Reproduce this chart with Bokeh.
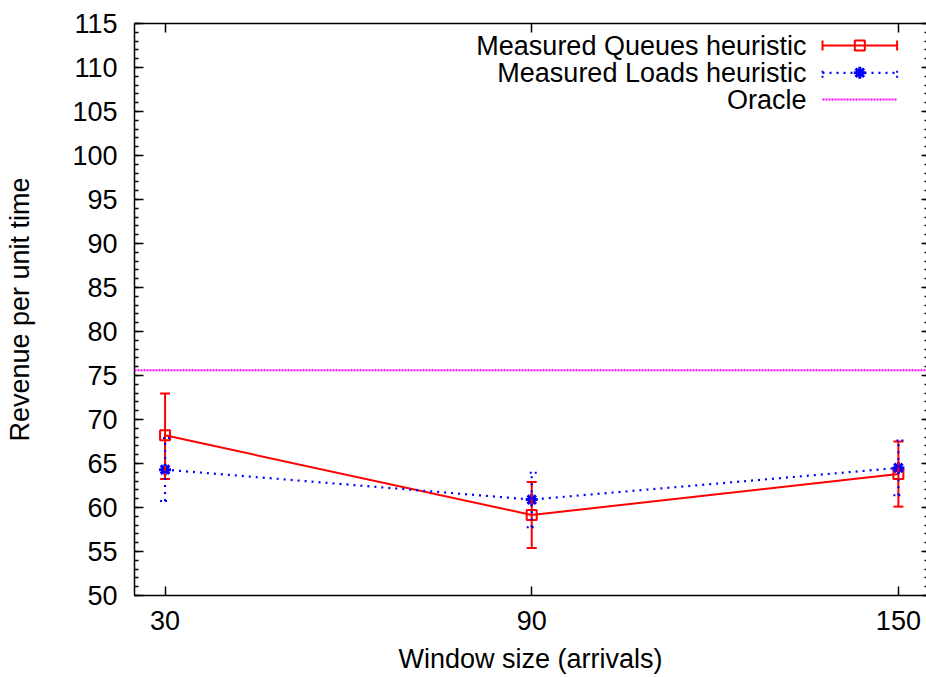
import numpy as np
from bokeh.plotting import figure
from bokeh.models import (Range1d, LinearAxis, FixedTicker, SingleIntervalTicker,
                          Whisker, ColumnDataSource, Span, TeeHead)
from bokeh.core.properties import value
from bokeh.embed import file_html
from bokeh.resources import INLINE

# ---- data ----
window = [30, 90, 150]
queues_mean = [68.2, 59.15, 63.8]
queues_lo = [63.25, 55.4, 60.1]
queues_hi = [72.95, 62.9, 67.5]
loads_mean = [64.3, 60.9, 64.5]
loads_lo = [60.75, 57.75, 61.4]
loads_hi = [67.9, 63.95, 67.6]
oracle = 75.6
series_names = ["Measured Queues heuristic", "Measured Loads heuristic", "Oracle"]
x_ticks = [30, 90, 150]
y_ticks = list(range(50, 120, 5))

FONT = "Liberation Sans"
FS = "27px"
RED = "#ff0000"
BLUE = "#0000ff"
MAG = "#ff00ff"

p = figure(width=926, height=677, output_backend="svg", toolbar_location=None,
           x_range=Range1d(25, 154.6), y_range=Range1d(50, 115),
           min_border_left=134, min_border_right=0, min_border_top=23,
           min_border_bottom=82)
p.background_fill_color = "white"
p.border_fill_color = "white"
p.outline_line_color = None
p.grid.visible = False

# axes
xa = p.xaxis[0]
xa.ticker = FixedTicker(ticks=x_ticks)
xa.axis_label = "Window size (arrivals)"
ya = p.yaxis[0]
ya.ticker = SingleIntervalTicker(interval=5, num_minor_ticks=5)
ya.axis_label = "Revenue per unit time"
for ax in (xa, ya):
    ax.axis_line_color = "black"
    ax.axis_line_width = 1.5
    ax.major_tick_line_color = "black"
    ax.major_tick_line_width = 1.5
    ax.minor_tick_line_color = "black"
    ax.minor_tick_line_width = 1.5
    ax.major_tick_in = 9
    ax.major_tick_out = 0
    ax.minor_tick_in = 4
    ax.minor_tick_out = 0
    ax.major_label_text_font = FONT
    ax.major_label_text_font_size = FS
    ax.major_label_text_color = "black"
    ax.axis_label_text_font = FONT
    ax.axis_label_text_font_size = FS
    ax.axis_label_text_font_style = "normal"
    ax.axis_label_text_color = "black"
xa.major_label_standoff = 15
xa.axis_label_standoff = 11
ya.major_label_standoff = 17
ya.axis_label_standoff = 34

top = LinearAxis(ticker=FixedTicker(ticks=x_ticks), major_label_text_font_size="1px",
                 major_label_overrides={t: "" for t in x_ticks},
                 major_label_standoff=0, major_tick_in=9, major_tick_out=0,
                 minor_tick_in=0, minor_tick_out=0, axis_line_color="black",
                 axis_line_width=1.5, major_tick_line_color="black", major_tick_line_width=1.5)
p.add_layout(top, "above")
right = LinearAxis(ticker=SingleIntervalTicker(interval=5, num_minor_ticks=5),
                   major_label_text_font_size="1px",
                   major_label_overrides={t: "" for t in y_ticks},
                   major_label_standoff=0,
                   major_tick_in=5, major_tick_out=0, minor_tick_in=2, minor_tick_out=0,
                   axis_line_color=None, major_tick_line_color="black",
                   major_tick_line_width=1.5, minor_tick_line_color="black",
                   minor_tick_line_width=1.5)
p.add_layout(right, "right")

# ---- Queues ----
qsrc = ColumnDataSource(dict(x=window, y=queues_mean, lo=queues_lo, hi=queues_hi))
p.line("x", "y", source=qsrc, line_color=RED, line_width=2)
p.add_layout(Whisker(source=qsrc, base="x", lower="lo", upper="hi", dimension="height",
                     line_color=RED, line_width=2, level="glyph",
                     lower_head=TeeHead(size=10, line_color=RED, line_width=2),
                     upper_head=TeeHead(size=10, line_color=RED, line_width=2)))
p.scatter("x", "y", source=qsrc, marker="square", size=10, fill_color=None,
          line_color=RED, line_width=2)

# ---- Loads ----
lsrc = ColumnDataSource(dict(x=window, y=loads_mean, lo=loads_lo, hi=loads_hi))
p.line("x", "y", source=lsrc, line_color=BLUE, line_width=2.2, line_dash="2 5")
p.add_layout(Whisker(source=lsrc, base="x", lower="lo", upper="hi", dimension="height",
                     line_color=BLUE, line_width=2.2, line_dash="2 5", level="glyph",
                     lower_head=TeeHead(size=10, line_color=BLUE, line_width=2, line_dash="2 3"),
                     upper_head=TeeHead(size=10, line_color=BLUE, line_width=2, line_dash="2 3")))
p.scatter("x", "y", source=lsrc, marker="asterisk", size=12, line_color=BLUE, line_width=3)

# ---- Oracle ----
p.add_layout(Span(location=oracle, dimension="width", line_color=MAG, line_width=2,
                  line_dash="2 1"))

# ---- legend (in normalized frame coords) ----
p.extra_x_ranges = {"lx": Range1d(0, 1)}
p.extra_y_ranges = {"ly": Range1d(0, 1)}
lx0, lx1, lxm, ltx = 0.8687, 0.9629, 0.9158, 0.8485
rows = [0.9615, 0.9138, 0.8671]
kw = dict(x_range_name="lx", y_range_name="ly")
p.text(x=[ltx] * 3, y=rows, text=series_names, text_align="right", text_baseline="middle",
       text_font=value(FONT), text_font_size=FS, text_color="black", **kw)
# queues sample
p.segment(x0=[lx0], x1=[lx1], y0=[rows[0]], y1=[rows[0]], line_color=RED, line_width=2, **kw)
p.scatter(x=[lx0, lx1], y=[rows[0]] * 2, marker="dash", angle=np.pi / 2, size=10,
          line_color=RED, line_width=2, **kw)
p.scatter(x=[lxm], y=[rows[0]], marker="square", size=10, fill_color=None,
          line_color=RED, line_width=2, **kw)
# loads sample
p.segment(x0=[lx0], x1=[lx1], y0=[rows[1]], y1=[rows[1]], line_color=BLUE, line_width=2.2,
          line_dash="2 5", **kw)
p.scatter(x=[lx0, lx1], y=[rows[1]] * 2, marker="dash", angle=np.pi / 2, size=10,
          line_color=BLUE, line_width=2, line_dash="2 3", **kw)
p.scatter(x=[lxm], y=[rows[1]], marker="asterisk", size=12, line_color=BLUE,
          line_width=3, **kw)
# oracle sample
p.segment(x0=[lx0], x1=[lx1], y0=[rows[2]], y1=[rows[2]], line_color=MAG, line_width=2,
          line_dash="2 1", **kw)

open("out.html", "w").write(file_html(p, INLINE))
